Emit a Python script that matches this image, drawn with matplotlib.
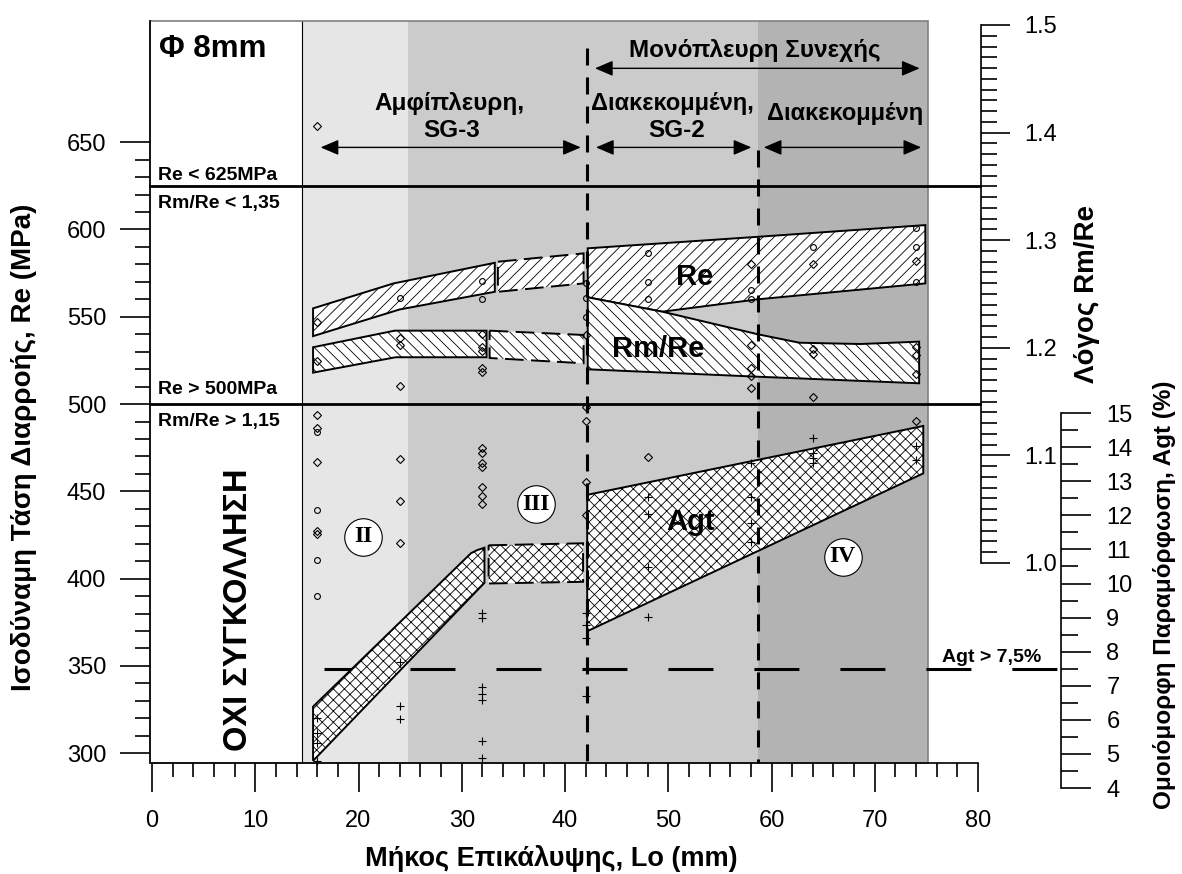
import numpy as np
import matplotlib
matplotlib.use("Agg")
import matplotlib.pyplot as plt
from matplotlib.patches import Polygon, Rectangle
from matplotlib.ticker import FixedLocator, FormatStrFormatter

plt.rcParams['font.family'] = ['Liberation Sans', 'DejaVu Sans']
plt.rcParams['hatch.linewidth'] = 0.6

# limits drawn as lines
re_max = 625
re_min = 500
agt_min = 7.5

# hatched bands: Lo (mm) and value
re1_lo = [15.6, 23.4, 33.2, 33.2, 24.0, 15.6]
re1_val = [554.8, 569.1, 580.9, 564.3, 554.2, 538.9]
re2_lo = [33.5, 41.8, 41.8, 33.5]
re2_val = [581.5, 586.3, 569.1, 564.3]
re3_lo = [42.2, 58.7, 74.9, 74.9, 58.7, 49.4, 42.2]
re3_val = [589.2, 595.8, 602.5, 569.1, 560.0, 552.9, 561.1]

rr1_lo = [15.6, 23.5, 32.4, 32.4, 23.6, 15.6]
rr1_val = [1.2005, 1.2159, 1.2159, 1.1912, 1.1912, 1.1769]
rr2_lo = [32.7, 41.8, 41.8, 32.7]
rr2_val = [1.2159, 1.2119, 1.1856, 1.1905]
rr3_lo = [42.2, 49.4, 58.7, 62.7, 68.6, 74.3, 74.3, 58.7, 42.2]
rr3_val = [1.2469, 1.2336, 1.2125, 1.2047, 1.2035, 1.2057, 1.167, 1.1731, 1.180]

agt1_lo = [15.6, 15.6, 30.9, 31.5, 32.2, 32.2]
agt1_val = [4.80, 6.39, 10.89, 10.98, 11.05, 10.02]
agt2_lo = [32.6, 41.75, 41.75, 32.6]
agt2_val = [11.12, 11.18, 10.05, 10.0]
agt3_lo = [42.15, 74.7, 74.7, 42.15]
agt3_val = [12.60, 14.62, 13.23, 8.6]

# measured points
dia_lo = [16, 16, 16, 16, 16, 16, 16, 24, 24, 24, 32, 32, 32, 32, 32, 32, 32,
          42, 42, 48, 48, 58, 64, 74, 74]
dia_re = [659.2, 547.2, 493.7, 486.0, 466.6, 427.3, 425.4, 468.3, 444.4, 420.2,
          474.6, 472.1, 466.4, 464.1, 452.2, 447.4, 442.6, 455.5, 436.3, 469.9,
          551.4, 580.2, 580.2, 582.1, 490.3]
circ_lo = [16, 16, 16, 16, 24, 32, 32, 42, 42, 42, 48, 48, 48, 58, 58, 64, 74, 74, 74]
circ_re = [484.1, 439.3, 410.7, 390.2, 560.9, 570.4, 560.1, 569.1, 560.6, 549.7,
           586.3, 570.0, 560.1, 565.3, 560.1, 589.7, 600.6, 590.1, 570.0]
rat_lo = [16, 24, 24, 24, 32, 32, 32, 32, 32, 42, 42, 42, 48, 58, 58, 58, 58,
          64, 64, 64, 74, 74, 74]
rat_val = [1.188, 1.2094, 1.2026, 1.1645, 1.2125, 1.201, 1.1973, 1.181, 1.1772,
           1.2119, 1.1447, 1.132, 1.1964, 1.2026, 1.181, 1.1738, 1.1624,
           1.1986, 1.1942, 1.1538, 1.201, 1.1933, 1.1757]
agt_lo = [16] * 4 + [24] * 3 + [32] * 7 + [42] * 4 + [48] * 4 + [58] * 4 + [64] * 4 + [74] * 2
agt_val = [6.05, 5.61, 5.31, 4.80, 7.71, 6.42, 6.02,
           9.13, 8.98, 6.97, 6.75, 6.58, 5.38, 4.87,
           9.13, 8.78, 8.39, 6.70, 12.53, 12.04, 10.49, 9.01,
           13.52, 12.55, 11.78, 11.23, 14.26, 13.82, 13.67, 13.52, 14.03, 13.62]

zone_lo = [20.46, 37.15, 66.9]
zone_re = [424.0, 442.7, 412.4]
zone_names = ['II', 'III', 'IV']

W, H = 1182, 874
fig = plt.figure(figsize=(W / 100, H / 100), dpi=100)

def fx(px):
    return px / W

def fy(py):
    return 1 - py / H

ax = fig.add_axes([fx(152), fy(763), (978 - 152) / W, (763 - 21) / H])
ax.set_xlim(0, 80)
ax.set_ylim(294.4, 719.4)

# background zones
ax.axvspan(-0.2, 14.57, color='white', zorder=0, lw=0)
ax.axvspan(14.57, 24.8, color='#e6e6e6', zorder=0, lw=0)
ax.axvspan(24.8, 58.7, color='#cbcbcb', zorder=0, lw=0)
ax.axvspan(58.7, 75.2, color='#b3b3b3', zorder=0, lw=0)
ax.axvline(14.57, color='black', lw=0.8, zorder=1)
ax.add_patch(Rectangle((-0.2, 294.4), 75.4, 425, fill=False, edgecolor='#808080',
                       lw=1.2, clip_on=False, zorder=1))

for lim in (re_max, re_min):
    ax.plot([-0.2, 80.2], [lim, lim], color='black', lw=2, clip_on=False, zorder=2)

DASH_EDGE = (0, (9.6, 3.8))


def band(axis, lo, val, hatch, dashed=False):
    poly = Polygon(np.column_stack([lo, val]), closed=True, facecolor='white',
                   edgecolor='black', hatch=hatch, lw=1.4,
                   ls=DASH_EDGE if dashed else '-', zorder=3)
    axis.add_patch(poly)


band(ax, re1_lo, re1_val, '///')
band(ax, re2_lo, re2_val, '///', dashed=True)
band(ax, re3_lo, re3_val, '///')

ax.plot(dia_lo, dia_re, 'D', ms=3.6, mfc='none', mec='black', mew=0.8, zorder=4)
ax.plot(circ_lo, circ_re, 'o', ms=4.2, mfc='none', mec='black', mew=0.8, zorder=4)

ax.plot(zone_lo, zone_re, 'o', ms=27, mfc='white', mec='black', mew=0.8, zorder=4)
for x, y, s in zip(zone_lo, zone_re, zone_names):
    ax.text(x, y, s, ha='center', va='center', fontsize=17, fontweight='bold',
            family=['Liberation Serif', 'DejaVu Serif'], zorder=5)

# axis styling (Re)
for s in ('top', 'right'):
    ax.spines[s].set_visible(False)
ax.spines['left'].set_position(('data', -0.2))
ax.spines['left'].set_linewidth(1.2)
ax.spines['bottom'].set_linewidth(1.2)
ax.xaxis.set_major_locator(FixedLocator(np.arange(0, 81, 10)))
ax.xaxis.set_minor_locator(FixedLocator(np.arange(0, 81, 2)))
ax.yaxis.set_major_locator(FixedLocator(np.arange(300, 651, 50)))
ax.yaxis.set_minor_locator(FixedLocator(np.arange(300, 651, 10)))
ax.tick_params(axis='x', which='major', direction='out', length=21, width=1.2, pad=13, labelsize=17)
ax.tick_params(axis='x', which='minor', direction='out', length=10, width=1.2)
ax.tick_params(axis='y', which='major', direction='out', length=21.6, width=1.2, pad=10, labelsize=17)
ax.tick_params(axis='y', which='minor', direction='out', length=10.8, width=1.2)

# texts on Re axis
ax.text(0.7, 698.9, 'Φ 8mm', fontsize=22.5, fontweight='bold')
ax.text(0.58, 628.3, 'Re < 625MPa', fontsize=14, fontweight='bold')
ax.text(0.58, 612.1, 'Rm/Re < 1,35', fontsize=14, fontweight='bold')
ax.text(0.58, 505.6, 'Re > 500MPa', fontsize=14, fontweight='bold')
ax.text(0.58, 487.4, 'Rm/Re > 1,15', fontsize=14, fontweight='bold')
ax.text(8.4, 382, 'ΟΧΙ ΣΥΓΚΟΛΛΗΣΗ', rotation=90, fontsize=23.5, fontweight='bold',
        ha='center', va='center')
ax.text(28.8, 668.4, 'Αμφίπλευρη,', fontsize=17.5, fontweight='bold', ha='center')
ax.text(29.0, 653.1, 'SG-3', fontsize=17.5, fontweight='bold', ha='center')
ax.text(50.4, 668.4, 'Διακεκομμένη,', fontsize=17, fontweight='bold', ha='center')
ax.text(50.8, 653.1, 'SG-2', fontsize=17.5, fontweight='bold', ha='center')
ax.text(67.1, 662.5, 'Διακεκομμένη', fontsize=17, fontweight='bold', ha='center')
ax.text(58.4, 698.9, 'Μονόπλευρη Συνεχής', fontsize=17.5, fontweight='bold', ha='center')
ax.text(52.6, 568.2, 'Re', fontsize=21, fontweight='bold', ha='center', zorder=5)


def darrow(x0, x1, y):
    ax.annotate('', xy=(x1, y), xytext=(x0, y),
                arrowprops=dict(arrowstyle='<|-|>,head_length=11,head_width=4.7',
                                mutation_scale=1, lw=1.0, color='black',
                                shrinkA=0, shrinkB=0), zorder=4)


darrow(16.33, 41.53, 647.0)
darrow(43.0, 58.05, 647.0)
darrow(59.25, 74.5, 647.0)
darrow(42.9, 74.35, 692.3)

# Rm/Re axis
ax2 = ax.twinx()
ax2.set_ylim(0.8141, 1.5037)
band(ax2, rr1_lo, rr1_val, '\\\\\\')
band(ax2, rr2_lo, rr2_val, '\\\\\\', dashed=True)
band(ax2, rr3_lo, rr3_val, '\\\\\\')
ax2.plot(rat_lo, rat_val, 'D', ms=3.6, mfc='none', mec='black', mew=0.8, zorder=4)
ax2.text(49.0, 1.1917, 'Rm/Re', fontsize=21, fontweight='bold', ha='center', zorder=5)
for s in ('top', 'left', 'bottom'):
    ax2.spines[s].set_visible(False)
ax2.spines['right'].set_position(('axes', (981 - 152) / 826))
ax2.spines['right'].set_bounds(1.0, 1.5)
ax2.spines['right'].set_linewidth(1.2)
ax2.yaxis.set_major_locator(FixedLocator(np.round(np.arange(1.0, 1.51, 0.1), 2)))
ax2.yaxis.set_minor_locator(FixedLocator(np.round(np.arange(1.0, 1.501, 0.01), 3)))
ax2.yaxis.set_major_formatter(FormatStrFormatter('%.1f'))
ax2.tick_params(axis='y', which='major', direction='out', length=21, width=1.2, pad=10, labelsize=17)
ax2.tick_params(axis='y', which='minor', direction='out', length=11.5, width=1.2)

# Agt axis
ax3 = fig.add_axes([fx(152), fy(800), (978 - 152) / W, (800 - 21) / H])
ax3.set_xlim(0, 80)
ax3.set_ylim(3.651, 26.496)
ax3.patch.set_visible(False)
ax3.plot([16.7, 88.0], [agt_min, agt_min], color='black', lw=2.2,
         ls=(0, (14.73, 13.41)), clip_on=False, zorder=2)
band(ax3, agt1_lo, agt1_val, 'xxx')
band(ax3, agt2_lo, agt2_val, 'xxx', dashed=True)
band(ax3, agt3_lo, agt3_val, 'xxx')
ax3.plot(agt_lo, agt_val, '+', ms=6, mec='black', mew=0.8, zorder=4)
ax3.text(52.2, 11.57, 'Agt', fontsize=21, fontweight='bold', ha='center', zorder=5)
ax3.text(76.5, 7.71, 'Agt > 7,5%', fontsize=14, fontweight='bold', clip_on=False)

# section dividers drawn on top, in Re coordinates
ax3.plot([42.15, 42.15], [703.9, 294.4], transform=ax.transData, color='black',
         lw=2.2, ls=(0, (5.56, 3.93)), zorder=6)
ax3.plot([58.7, 58.7], [645.5, 294.4], transform=ax.transData, color='black',
         lw=2.2, ls=(0, (5.56, 3.93)), zorder=6)

for s in ('top', 'left', 'bottom'):
    ax3.spines[s].set_visible(False)
ax3.xaxis.set_visible(False)
ax3.yaxis.set_ticks_position('right')
ax3.spines['right'].set_position(('axes', (1061 - 152) / 826))
ax3.spines['right'].set_bounds(4, 15)
ax3.spines['right'].set_linewidth(1.2)
ax3.yaxis.set_major_locator(FixedLocator(np.arange(4, 16, 1)))
ax3.yaxis.set_minor_locator(FixedLocator(np.arange(4, 15.01, 0.5)))
ax3.tick_params(axis='y', which='major', direction='out', length=21.6, width=1.2, pad=11, labelsize=17)
ax3.tick_params(axis='y', which='minor', direction='out', length=12, width=1.2)

# axis titles
fig.text(fx(24), fy(447), 'Ισοδύναμη Τάση Διαρροής, Re (MPa)', rotation=90,
         fontsize=20, fontweight='bold', ha='center', va='center')
fig.text(fx(551), fy(866), 'Μήκος Επικάλυψης, Lo (mm)', fontsize=19.5,
         fontweight='bold', ha='center', va='baseline')
fig.text(fx(1087), fy(294), 'Λόγος Rm/Re', rotation=90, fontsize=20,
         fontweight='bold', ha='center', va='center')
fig.text(fx(1164), fy(595), 'Ομοιόμορφη Παραμόρφωση, Agt (%)', rotation=90,
         fontsize=17.5, fontweight='bold', ha='center', va='center')

fig.savefig('out.png', dpi=100)
